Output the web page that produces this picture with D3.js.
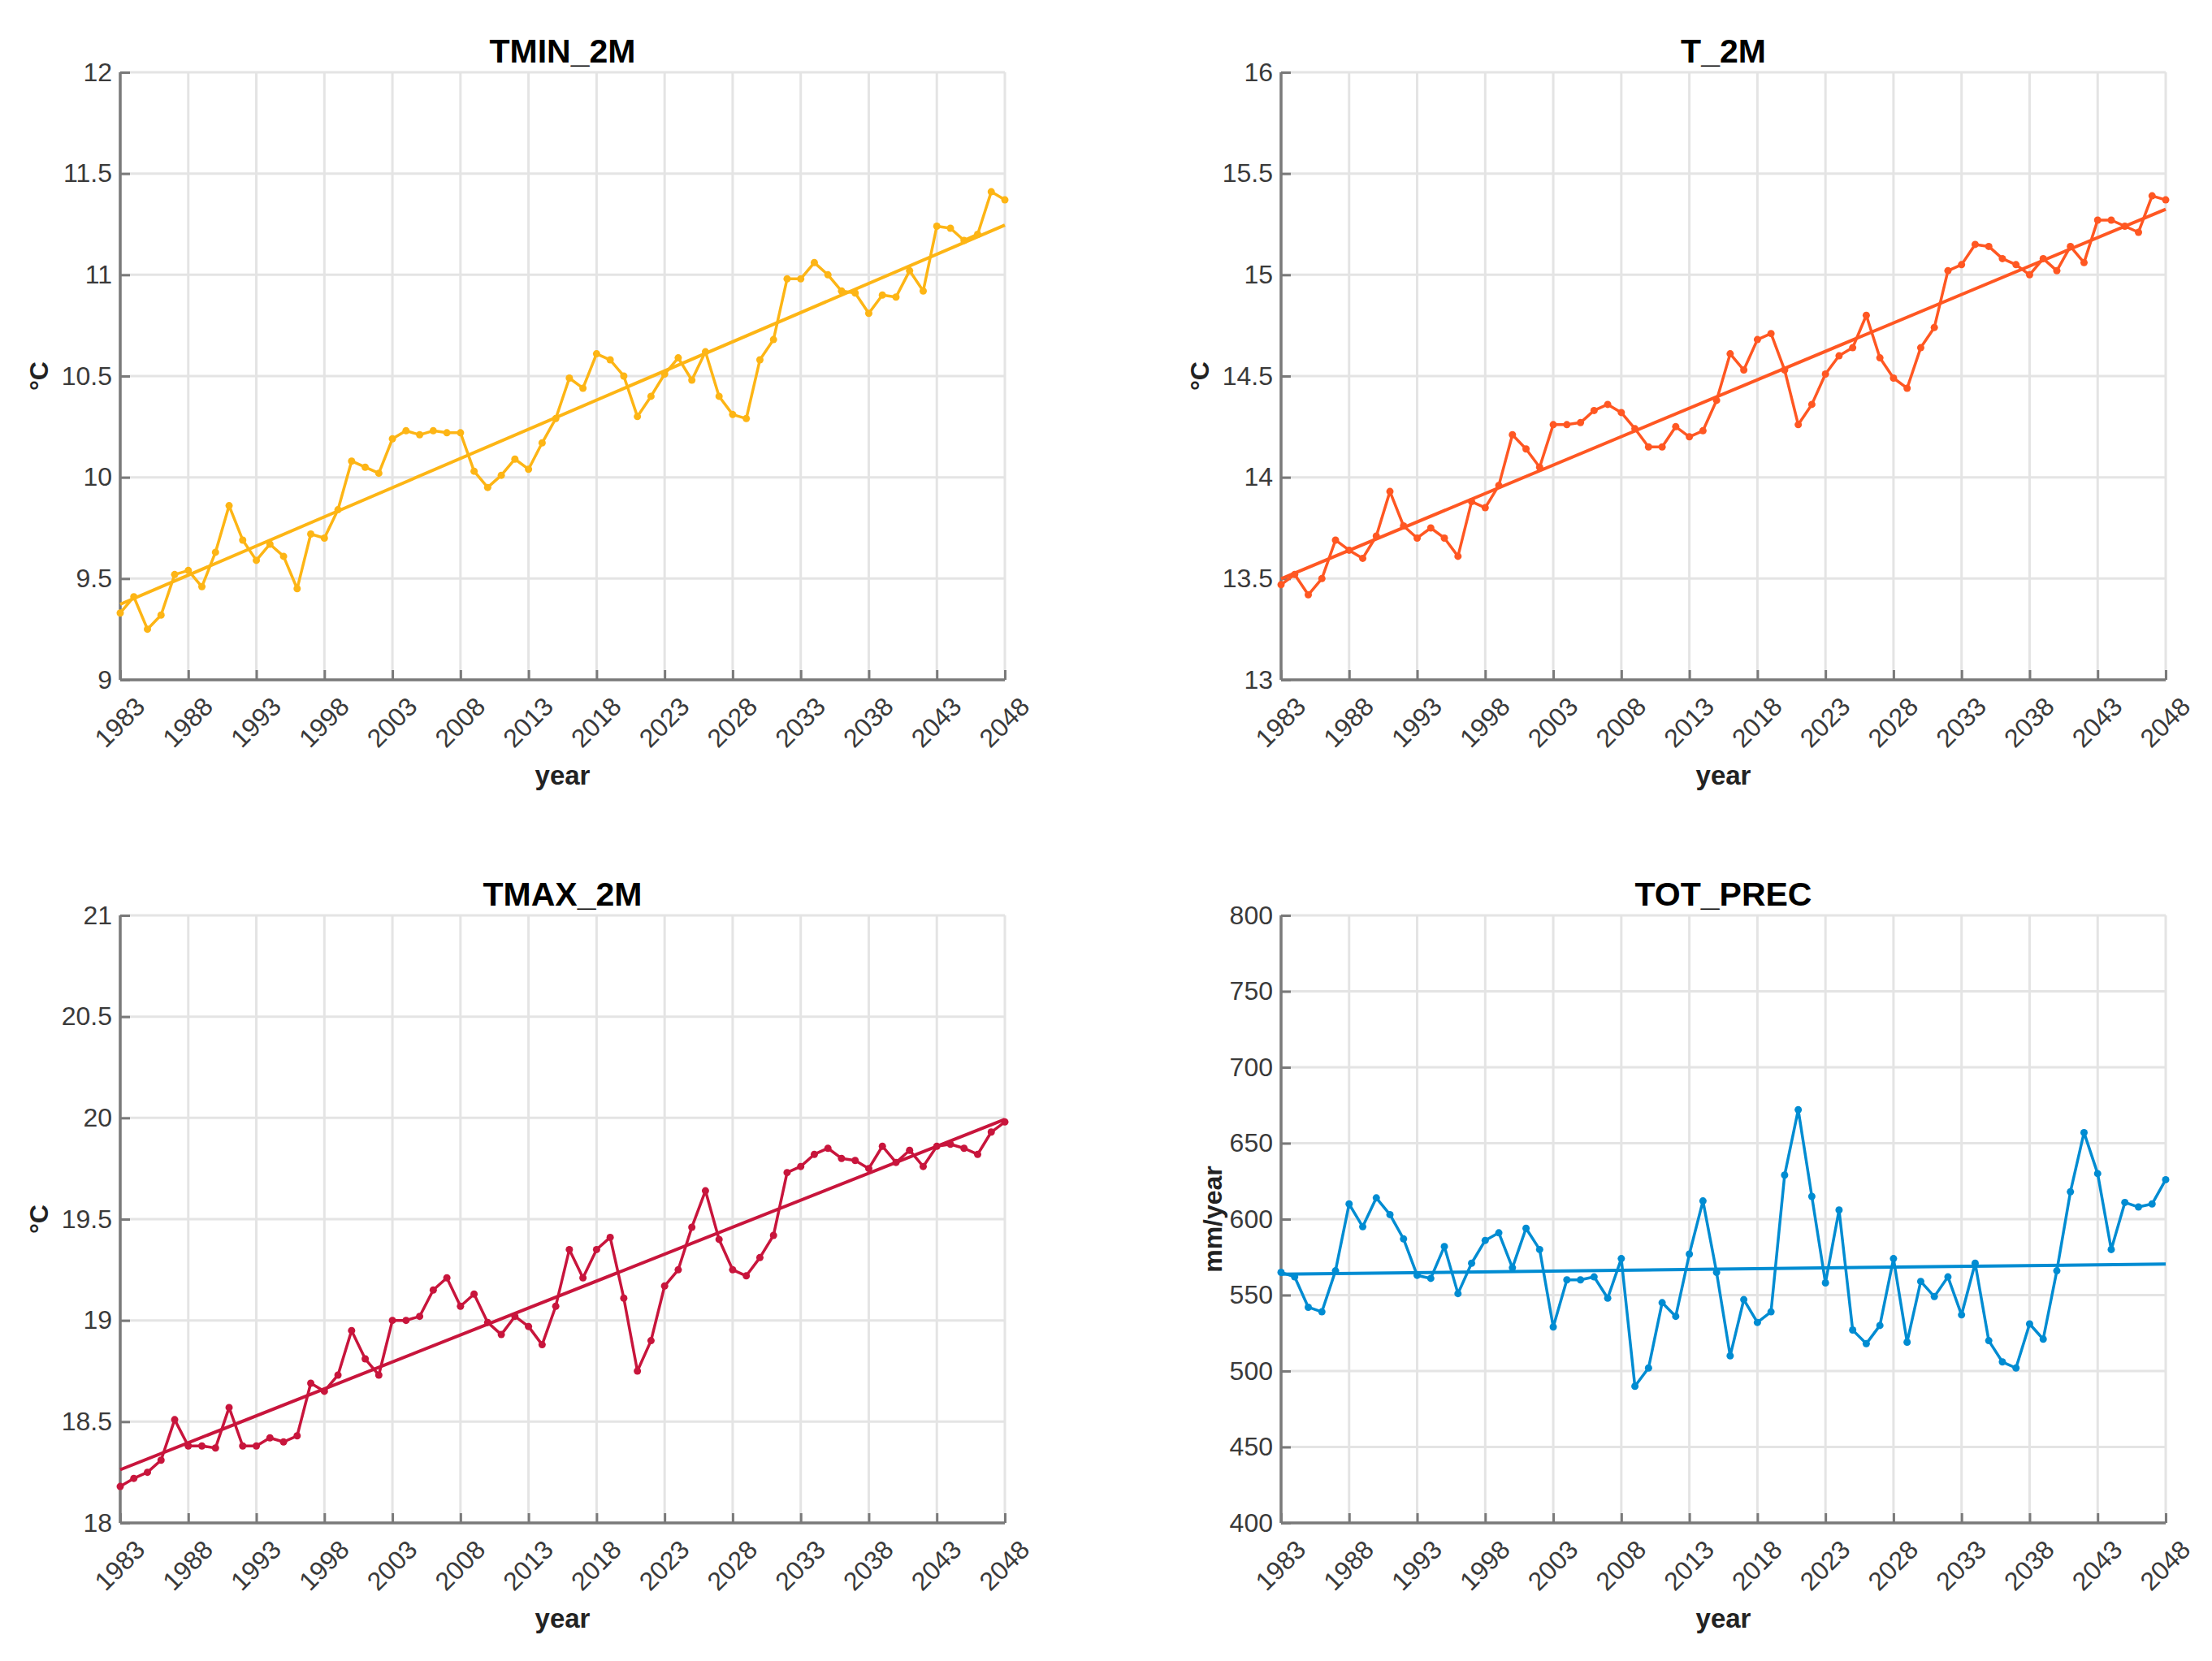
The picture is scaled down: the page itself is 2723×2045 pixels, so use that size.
<!DOCTYPE html>
<html>
<head>
<meta charset="utf-8">
<script src="https://cdn.jsdelivr.net/npm/d3@7"></script>
<style>
  body { margin: 0; background: #fff; }
  svg { display: block; font-family: "Liberation Sans", Arial, sans-serif; }
</style>
</head>
<body>
<div id="chart"></div>
<script>
const width = 2723
const height = 2045

// years on the x axis, one value per year
const years = d3.range(1983, 2049)
const xTicks = [1983, 1988, 1993, 1998, 2003, 2008, 2013, 2018, 2023, 2028, 2033, 2038, 2043, 2048]

const tmin = [
  9.33, 9.41, 9.25, 9.32, 9.52, 9.54, 9.46, 9.63, 9.86, 9.69,
  9.59, 9.67, 9.61, 9.45, 9.72, 9.70, 9.84, 10.08,
  10.05, 10.02, 10.19, 10.23, 10.21, 10.23, 10.22, 10.22,
  10.03, 9.95, 10.01, 10.09, 10.04, 10.17, 10.29, 10.49,
  10.44, 10.61, 10.58, 10.50, 10.30, 10.40, 10.51, 10.59,
  10.48, 10.62, 10.40, 10.31, 10.29, 10.58, 10.68, 10.98,
  10.98, 11.06, 11.00, 10.92, 10.91, 10.81, 10.90, 10.89,
  11.02, 10.92, 11.24, 11.23, 11.17, 11.20, 11.41, 11.37
]

const t2m = [
  13.47, 13.52, 13.42, 13.50, 13.69, 13.64, 13.60, 13.71, 13.93, 13.76,
  13.70, 13.75, 13.70, 13.61, 13.88, 13.85, 13.96, 14.21,
  14.14, 14.05, 14.26, 14.26, 14.27, 14.33, 14.36, 14.32,
  14.24, 14.15, 14.15, 14.25, 14.20, 14.23, 14.38, 14.61,
  14.53, 14.68, 14.71, 14.53, 14.26, 14.36, 14.51, 14.60,
  14.64, 14.80, 14.59, 14.49, 14.44, 14.64, 14.74, 15.02,
  15.05, 15.15, 15.14, 15.08, 15.05, 15.00, 15.08, 15.02,
  15.14, 15.06, 15.27, 15.27, 15.24, 15.21, 15.39, 15.37
]

const tmax = [
  18.18, 18.22, 18.25, 18.31, 18.51, 18.38, 18.38, 18.37, 18.57, 18.38,
  18.38, 18.42, 18.40, 18.43, 18.69, 18.65, 18.73, 18.95,
  18.81, 18.73, 19.00, 19.00, 19.02, 19.15, 19.21, 19.07,
  19.13, 18.99, 18.93, 19.02, 18.97, 18.88, 19.07, 19.35,
  19.21, 19.35, 19.41, 19.11, 18.75, 18.90, 19.17, 19.25,
  19.46, 19.64, 19.40, 19.25, 19.22, 19.31, 19.42, 19.73,
  19.76, 19.82, 19.85, 19.80, 19.79, 19.75, 19.86, 19.78,
  19.84, 19.76, 19.86, 19.87, 19.85, 19.82, 19.93, 19.98
]

const prec = [
  565, 562, 542, 539, 566, 610, 595, 614, 603, 587,
  563, 561, 582, 551, 571, 586, 591, 568,
  594, 580, 529, 560, 560, 562, 548, 574,
  490, 502, 545, 536, 577, 612, 565, 510,
  547, 532, 539, 629, 672, 615, 558, 606,
  527, 518, 530, 574, 519, 559, 549, 562,
  537, 571, 520, 506, 502, 531, 521, 566,
  618, 657, 630, 580, 611, 608, 610, 626
]

const tminTicks = [9, 9.5, 10, 10.5, 11, 11.5, 12]
const t2mTicks = [13, 13.5, 14, 14.5, 15, 15.5, 16]
const tmaxTicks = [18, 18.5, 19, 19.5, 20, 20.5, 21]
const precTicks = [400, 450, 500, 550, 600, 650, 700, 750, 800]

const titles = ['TMIN_2M', 'T_2M', 'TMAX_2M', 'TOT_PREC']
const ylabels = ['°C', '°C', '°C', 'mm/year']
const colors = ['#FDB515', '#FF5722', '#C8153C', '#008CD2']

// plot boxes
const colLeft = [148, 1577]
const rowTop = [89, 1127]
const plotW = 1089
const plotH = 748

const panels = [
  { title: titles[0], values: tmin, ticks: tminTicks, ylabel: ylabels[0], color: colors[0], col: 0, row: 0 },
  { title: titles[1], values: t2m, ticks: t2mTicks, ylabel: ylabels[1], color: colors[1], col: 1, row: 0 },
  { title: titles[2], values: tmax, ticks: tmaxTicks, ylabel: ylabels[2], color: colors[2], col: 0, row: 1 },
  { title: titles[3], values: prec, ticks: precTicks, ylabel: ylabels[3], color: colors[3], col: 1, row: 1 }
]

const svg = d3.select('#chart')
  .append('svg')
  .attr('width', width)
  .attr('height', height)

// least squares trend line
function trend(vals) {
  const mx = d3.mean(years)
  const my = d3.mean(vals)
  let sxy = 0, sxx = 0
  years.forEach((yr, i) => {
    sxy += (yr - mx) * (vals[i] - my)
    sxx += (yr - mx) * (yr - mx)
  })
  const b = sxy / sxx
  return yr => my + b * (yr - mx)
}

panels.forEach(p => {
  const g = svg.append('g')
    .attr('transform', 'translate(' + colLeft[p.col] + ',' + rowTop[p.row] + ')')

  const x = d3.scaleLinear().domain([1983, 2048]).range([0, plotW])
  const y = d3.scaleLinear().domain(d3.extent(p.ticks)).range([plotH, 0])

  // grid
  g.append('g').selectAll('line.vx')
    .data(xTicks)
    .enter().append('line')
    .attr('x1', d => x(d)).attr('x2', d => x(d))
    .attr('y1', 0).attr('y2', plotH)
    .attr('stroke', '#e4e4e4').attr('stroke-width', 3)

  g.append('g').selectAll('line.hy')
    .data(p.ticks)
    .enter().append('line')
    .attr('x1', 0).attr('x2', plotW)
    .attr('y1', d => y(d)).attr('y2', d => y(d))
    .attr('stroke', '#e4e4e4').attr('stroke-width', 3)

  // axes, ticks pointing inwards like matlab
  const xAxis = g.append('g')
    .attr('transform', 'translate(0,' + plotH + ')')
    .call(d3.axisBottom(x).tickValues(xTicks).tickFormat(d3.format('d'))
      .tickSizeInner(-12).tickSizeOuter(0))
  xAxis.select('.domain').remove()
  xAxis.selectAll('line').attr('stroke', '#7a7a7a').attr('stroke-width', 3)
  xAxis.selectAll('text')
    .attr('y', 0)
    .attr('dy', '0.35em')
    .attr('transform', 'translate(24,27) rotate(-45)')
    .style('text-anchor', 'end')
    .style('font-size', '32px')
    .attr('fill', '#3a3a3a')

  const yAxis = g.append('g')
    .call(d3.axisLeft(y).tickValues(p.ticks).tickFormat(d => d)
      .tickSizeInner(-12).tickSizeOuter(0).tickPadding(10))
  yAxis.select('.domain').remove()
  yAxis.selectAll('line').attr('stroke', '#7a7a7a').attr('stroke-width', 3)
  yAxis.selectAll('text')
    .style('font-size', '32px')
    .attr('fill', '#3a3a3a')

  g.append('line')
    .attr('x1', 0).attr('x2', plotW).attr('y1', plotH).attr('y2', plotH)
    .attr('stroke', '#7a7a7a').attr('stroke-width', 3.5)
  g.append('line')
    .attr('x1', 0).attr('x2', 0).attr('y1', 0).attr('y2', plotH)
    .attr('stroke', '#7a7a7a').attr('stroke-width', 3.5)

  // trend
  const fit = trend(p.values)
  g.append('line')
    .attr('x1', x(1983)).attr('y1', y(fit(1983)))
    .attr('x2', x(2048)).attr('y2', y(fit(2048)))
    .attr('stroke', p.color)
    .attr('stroke-width', 4)

  // data line + dots
  const line = d3.line()
    .x((d, i) => x(years[i]))
    .y(d => y(d))

  g.append('path')
    .datum(p.values)
    .attr('d', line)
    .attr('fill', 'none')
    .attr('stroke', p.color)
    .attr('stroke-width', 3.5)
    .attr('stroke-linejoin', 'round')

  g.selectAll('circle')
    .data(p.values)
    .enter()
    .append('circle')
    .attr('cx', (d, i) => x(years[i]))
    .attr('cy', d => y(d))
    .attr('r', 4.5)
    .attr('fill', p.color)

  // labels
  g.append('text')
    .attr('x', plotW / 2)
    .attr('y', -12)
    .attr('text-anchor', 'middle')
    .style('font-size', '41px')
    .style('font-weight', 'bold')
    .attr('fill', '#000')
    .text(p.title)

  g.append('text')
    .attr('x', plotW / 2)
    .attr('y', plotH + 129)
    .attr('text-anchor', 'middle')
    .style('font-size', '33px')
    .style('font-weight', 'bold')
    .attr('fill', '#222')
    .text('year')

  const ylx = p.ylabel === '°C' ? -100 : -84
  g.append('text')
    .attr('transform', 'translate(' + ylx + ',' + (plotH / 2) + ') rotate(-90)')
    .attr('text-anchor', 'middle')
    .attr('dy', '0.35em')
    .style('font-size', '32px')
    .style('font-weight', 'bold')
    .attr('fill', '#222')
    .text(p.ylabel)
})
</script>
</body>
</html>
